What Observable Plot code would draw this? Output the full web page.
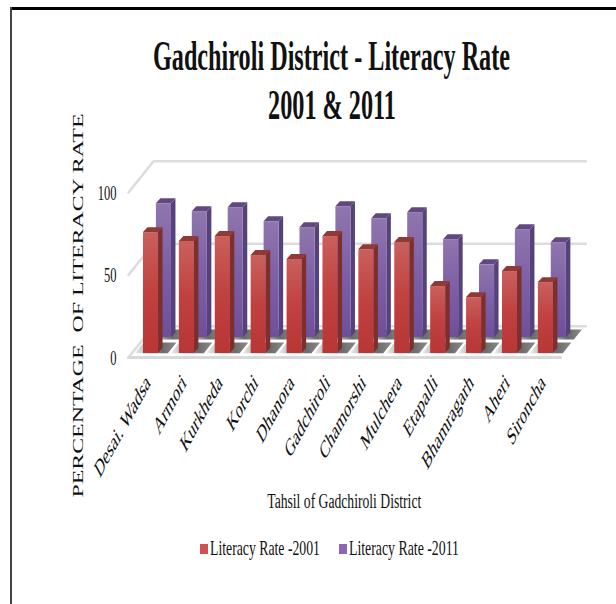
<!DOCTYPE html>
<html>
<head>
<meta charset="utf-8">
<script src="https://cdn.jsdelivr.net/npm/d3@7"></script>
<script src="https://cdn.jsdelivr.net/npm/@observablehq/plot@0.6"></script>
<style>
  html, body { margin: 0; padding: 0; background: #fff; overflow: hidden; }
  #page { position: relative; width: 616px; height: 604px; font-family: "Liberation Serif", serif; color: #111; }
  .edge { position: absolute; }
  #edgeTop { left: 10px; right: 0; top: 7px; height: 3px; background: #000; }
  #edgeLeft { left: 10px; top: 7px; bottom: 0; width: 2px; background: #444; }
  #title { height: 130px; box-sizing: border-box; font-weight: 700; font-size: 43px; line-height: 49px; }
  .line { position: absolute; left: 0; white-space: nowrap; transform-origin: 0 0; }
  #plot { height: 400px; }
  #plot svg { display: block; overflow: visible; }
  #legend { position: relative; height: 74px; font-size: 21px; }
  .swatch { position: absolute; width: 8px; height: 10px; top: 14px; }
</style>
</head>
<body>
<div id="page">
  <div class="edge" id="edgeTop"></div>
  <div class="edge" id="edgeLeft"></div>
  <div id="title"></div>
  <div id="plot"></div>
  <div id="legend"></div>
</div>
<script>
// Literacy rate (%) by tahsil, census years 2001 and 2011
const tahsils = ["Desai. Wadsa", "Armori", "Kurkheda", "Korchi", "Dhanora", "Gadchiroli",
                 "Chamorshi", "Mulchera", "Etapalli", "Bhamragarh", "Aheri", "Sironcha"];
const rate2001 = [73.3, 67.9, 70.9, 59.4, 57, 70.9, 63, 67.3, 40.6, 33.9, 49.7, 43];
const rate2011 = [81.2, 76.4, 78.8, 70.3, 66.7, 79.4, 72.1, 75.8, 59.4, 44.2, 65.5, 57.6];
const yTicks = [0, 50, 100];
const titleLines = ["Gadchiroli District - Literacy Rate", "2001 & 2011"];
const legendLabels = ["Literacy Rate -2001", "Literacy Rate -2011"];

// Pseudo-3D geometry, in scale units: the chart is an oblique projection
const barWidth = 0.42;
const sideDx = 0.125, sideDy = 3;       // depth of one bar
const floorLeft = -0.627, floorRight = 11.41;
const floorDx = 0.7, floorDy = 19;      // depth of the whole floor
const series = [
  {values: rate2011, dx: 0.36, base: 12, front: "url(#face2011)", side: "#55427a", top: "#60497f"},
  {values: rate2001, dx: 0,    base: 2.4, front: "url(#face2001)", side: "#7c2f2d", top: "#8e3a38"}
];

// Floor tiles between the bars, two rows deep
const tileRows = [[0.12, 0.46], [0.56, 0.88]];
const tiles = [];
tahsils.forEach((_, i) => tileRows.forEach(([d0, d1], r) => {
  const left = i - 0.52, right = i + 0.4;
  for (const d of [d0, d1]) {
    tiles.push({id: `${i}-${r}`, y: floorDy * d, x1: left + floorDx * d, x2: right + floorDx * d});
  }
}));

// Wall gridlines: each runs in from the front edge, then along the back wall
const wall = yTicks.flatMap(v => [
  {v, x: floorLeft, y: v},
  {v, x: floorLeft + floorDx, y: v + floorDy},
  {v, x: floorRight + floorDx, y: v + floorDy}
]);

function barMarks({values, dx, base, front, side, top}) {
  const rows = values.map((v, i) => ({
    i,
    x1: i - barWidth / 2 + dx,
    x2: i + barWidth / 2 + dx,
    y1: base,
    y2: base + v
  }));
  const sideRows = rows.flatMap(r => [
    {i: r.i, x: r.x2, y1: r.y1, y2: r.y2},
    {i: r.i, x: r.x2 + sideDx, y1: r.y1 + sideDy, y2: r.y2 + sideDy}
  ]);
  const topRows = rows.flatMap(r => [
    {i: r.i, y: r.y2, x1: r.x1, x2: r.x2},
    {i: r.i, y: r.y2 + sideDy, x1: r.x1 + sideDx, x2: r.x2 + sideDx}
  ]);
  return [
    Plot.areaY(sideRows, {x: "x", y1: "y1", y2: "y2", z: "i", fill: side}),
    Plot.areaX(topRows, {y: "y", x1: "x1", x2: "x2", z: "i", fill: top}),
    Plot.rect(rows, {x1: "x1", x2: "x2", y1: "y1", y2: "y2", fill: front})
  ];
}

// Shared gradients, referenced by the faces and tiles above
const gradients = () => {
  const ns = "http://www.w3.org/2000/svg";
  const defs = document.createElementNS(ns, "defs");
  const add = (id, x2, y2, stops) => {
    const g = document.createElementNS(ns, "linearGradient");
    g.setAttribute("id", id);
    g.setAttribute("x2", x2);
    g.setAttribute("y2", y2);
    stops.forEach(([o, c]) => {
      const s = document.createElementNS(ns, "stop");
      s.setAttribute("offset", o);
      s.setAttribute("stop-color", c);
      g.appendChild(s);
    });
    defs.appendChild(g);
  };
  add("face2001", 0, 1, [[0, "#c9605c"], [0.5, "#c0413f"], [1, "#b83636"]]);
  add("face2011", 0, 1, [[0, "#8f76ad"], [0.5, "#7d5fa6"], [1, "#6f4f9b"]]);
  add("tile", 1, 0, [[0, "#ededed"], [0.3, "#b5b5b5"], [0.65, "#6a6a6a"], [1, "#8a8a8a"]]);
  return defs;
};

const chart = Plot.plot({
  width: 616,
  height: 400,
  marginLeft: 128,
  marginRight: 70.5,
  marginTop: 20,
  marginBottom: 173,
  x: {domain: [floorLeft, (616 - 70.5 - 150.5) / 35.9], label: null},
  y: {domain: [0, (227 - 20) / 1.65], label: null},
  marks: [
    gradients,
    Plot.line(wall, {x: "x", y: "y", z: "v", stroke: "#dcdcdc", strokeWidth: 2.5}),
    Plot.areaX(tiles, {y: "y", x1: "x1", x2: "x2", z: "id", fill: "url(#tile)"}),
    Plot.line([{x: floorLeft, y: 0}, {x: floorRight, y: 0}], {x: "x", y: "y", stroke: "#d8d8d8", strokeWidth: 3}),
    ...series.flatMap(barMarks),
    Plot.axisY({
      ticks: yTicks, tickSize: 0, tickPadding: 12, fontSize: 22, label: null
    }),
    Plot.axisX({
      ticks: d3.range(tahsils.length),
      tickFormat: i => tahsils[i],
      tickSize: 0,
      tickPadding: 21,
      tickRotate: -45,
      textAnchor: "end",
      fontSize: 16,
      dx: -3,
      label: "Tahsil of Gadchiroli District",
      labelAnchor: "center",
      labelOffset: 150,
      labelArrow: "none"
    }),
    Plot.text(["PERCENTAGE  OF LITERACY RATE"], {
      x: () => -2.02, y: () => 31.5, rotate: -90, fontSize: 15.5, textAnchor: "middle", fill: "#111"
    })
  ],
  style: {fontFamily: "'Liberation Serif', serif", color: "#111", background: "transparent", overflow: "visible"}
});

// The whole figure is drawn narrow and tall, so text is stretched the same way
const svg = d3.select(chart);
const stretch = (selection, sx, sy) => selection.each(function () {
  const t = this.getAttribute("transform");
  if (t) this.setAttribute("transform", t.replace(/^(translate\([^)]*\))/, `$1 scale(${sx},${sy})`));
});
stretch(svg.selectAll('[aria-label="y-axis tick label"] text'), 0.57, 1);
stretch(svg.selectAll('[aria-label="x-axis tick label"] text'), 0.84, 1.55);
svg.selectAll('[aria-label="x-axis label"] text')
  .attr("font-size", 20).attr("dx", 7).attr("textLength", 154).attr("lengthAdjust", "spacingAndGlyphs");
svg.selectAll('[aria-label="text"] text')
  .attr("textLength", 384).attr("lengthAdjust", "spacingAndGlyphs");

document.getElementById("plot").appendChild(chart);

// Condensed HTML text: place a span so that it covers the given horizontal extent
function fitted(parent, text, left, width, top) {
  const s = document.createElement("span");
  s.className = "line";
  s.textContent = text;
  s.style.top = top + "px";
  parent.appendChild(s);
  s.style.transform = `translateX(${left}px) scaleX(${width / s.getBoundingClientRect().width})`;
  return s;
}
const title = document.getElementById("title");
fitted(title, titleLines[0], 153, 357, 31);
fitted(title, titleLines[1], 268, 128, 80);

const legend = document.getElementById("legend");
[[200, "#d2504f", 210], [339, "#8a66b4", 349]].forEach(([sx, color, tx], i) => {
  const sw = document.createElement("div");
  sw.className = "swatch";
  sw.style.left = sx + "px";
  sw.style.background = color;
  legend.appendChild(sw);
  fitted(legend, legendLabels[i], tx, 110, 6);
});
</script>
</body>
</html>
